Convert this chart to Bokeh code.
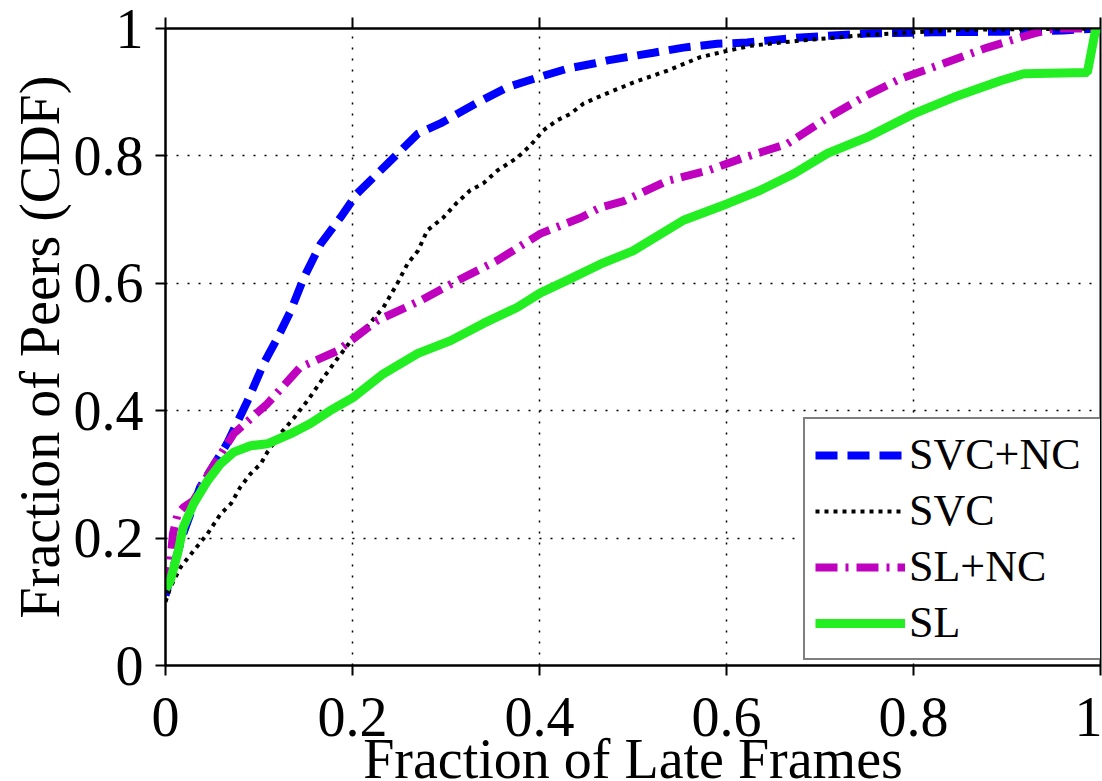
from bokeh.plotting import figure
from bokeh.models import FixedTicker, CustomJSTickFormatter, LinearAxis, Range1d, Title
from bokeh.embed import file_html
from bokeh.resources import INLINE

# ---- data ----
svcnc_x = [0, 0.005, 0.019, 0.037, 0.066, 0.088, 0.105, 0.12, 0.134, 0.148, 0.166, 0.187, 0.205, 0.241, 0.27,
           0.294, 0.334, 0.366, 0.398, 0.43, 0.458, 0.473, 0.522, 0.554, 0.59, 0.622, 0.679, 0.75, 0.82, 0.893, 0.96, 1.0]
svcnc_y = [0.11, 0.138, 0.207, 0.28, 0.349, 0.416, 0.474, 0.515, 0.557, 0.609, 0.662, 0.703, 0.741, 0.793, 0.835,
           0.851, 0.884, 0.908, 0.923, 0.937, 0.945, 0.95, 0.962, 0.97, 0.976, 0.978, 0.986, 0.992, 0.994, 0.995, 0.997, 1.0]

svc_x = [0, 0.005, 0.016, 0.03, 0.045, 0.059, 0.07, 0.08, 0.091, 0.102, 0.109, 0.123, 0.137, 0.152, 0.169,
         0.184, 0.201, 0.212, 0.233, 0.248, 0.259, 0.27, 0.28, 0.297, 0.312, 0.326, 0.34, 0.355, 0.376, 0.39,
         0.404, 0.419, 0.433, 0.447, 0.462, 0.5, 0.537, 0.572, 0.601, 0.626, 0.679, 0.75, 0.85, 1.0]
svc_y = [0.10, 0.122, 0.154, 0.18, 0.207, 0.238, 0.254, 0.28, 0.301, 0.317, 0.335, 0.364, 0.388, 0.416, 0.452,
         0.482, 0.515, 0.526, 0.562, 0.6, 0.631, 0.651, 0.683, 0.703, 0.727, 0.746, 0.757, 0.777, 0.797, 0.816,
         0.84, 0.856, 0.866, 0.882, 0.892, 0.915, 0.934, 0.955, 0.965, 0.973, 0.981, 0.99, 0.998, 1.0]

slnc_x = [0, 0.005, 0.008, 0.013, 0.019, 0.03, 0.048, 0.073, 0.109, 0.144, 0.184, 0.227, 0.273, 0.312, 0.355,
          0.401, 0.444, 0.465, 0.49, 0.537, 0.58, 0.618, 0.665, 0.708, 0.75, 0.786, 0.832, 0.879, 0.928, 0.95, 1.0]
slnc_y = [0.12, 0.16, 0.207, 0.238, 0.248, 0.259, 0.306, 0.364, 0.411, 0.468, 0.494, 0.542, 0.573, 0.604, 0.636,
          0.678, 0.703, 0.719, 0.729, 0.761, 0.777, 0.797, 0.819, 0.86, 0.895, 0.921, 0.945, 0.97, 0.992, 1.0, 1.0]

sl_x = [0, 0.005, 0.013, 0.019, 0.03, 0.045, 0.059, 0.073, 0.091, 0.109, 0.134, 0.155, 0.176, 0.201, 0.233,
        0.27, 0.305, 0.34, 0.376, 0.401, 0.43, 0.465, 0.5, 0.554, 0.601, 0.636, 0.672, 0.708, 0.75, 0.8,
        0.843, 0.893, 0.918, 0.986, 0.995, 1.0]
sl_y = [0.12, 0.133, 0.176, 0.217, 0.254, 0.29, 0.317, 0.335, 0.345, 0.348, 0.364, 0.38, 0.4, 0.421, 0.458,
        0.49, 0.51, 0.537, 0.562, 0.585, 0.605, 0.63, 0.651, 0.699, 0.725, 0.746, 0.772, 0.804, 0.829, 0.866,
        0.892, 0.918, 0.929, 0.931, 1.0, 1.0]

ticks = [0, 0.2, 0.4, 0.6, 0.8, 1.0]
x_title = "Fraction of Late Frames"
y_title = "Fraction of Peers (CDF)"
FONT = "Liberation Serif"

p = figure(width=1102, height=781, output_backend="svg", toolbar_location=None,
           x_range=Range1d(0, 1), y_range=Range1d(0, 1),
           min_border_left=165, min_border_right=2, min_border_top=28, min_border_bottom=116,
           background_fill_color="white", border_fill_color="white")
p.outline_line_color = "black"
p.outline_line_width = 2

fmt = CustomJSTickFormatter(code="return tick.toFixed(1).replace(/\\.0$/, '');")

for ax in (p.xaxis[0], p.yaxis[0]):
    ax.ticker = FixedTicker(ticks=ticks)
    ax.formatter = fmt
    ax.major_label_text_font = FONT
    ax.major_label_text_font_size = "56px"
    ax.major_label_text_color = "black"
    ax.axis_label_text_font = FONT
    ax.axis_label_text_font_size = "56px"
    ax.axis_label_text_font_style = "normal"
    ax.axis_label_text_color = "black"
    ax.axis_line_color = "black"
    ax.axis_line_width = 2
    ax.major_tick_line_color = "black"
    ax.major_tick_line_width = 2
    ax.major_tick_in = 0
    ax.major_tick_out = 10
    ax.minor_tick_line_color = None

p.yaxis[0].axis_label = y_title
p.xaxis[0].major_label_standoff = 22
p.yaxis[0].major_label_standoff = 12
p.yaxis[0].axis_label_standoff = 0

top = LinearAxis(ticker=FixedTicker(ticks=ticks), formatter=fmt,
                 major_label_text_font_size="1px", major_label_text_color=None,
                 major_tick_in=0, major_tick_out=11, major_tick_line_width=2,
                 axis_line_width=2, minor_tick_line_color=None, major_label_standoff=0)
p.add_layout(top, "above")

# x-axis title as a title below the axis, pulled up so the frame keeps its size
p.add_layout(Title(text=x_title, align="center", vertical_align="bottom",
                   text_font=FONT, text_font_size="56px", text_font_style="normal",
                   text_color="black", standoff=-26), "below")

for g in (p.xgrid[0], p.ygrid[0]):
    g.ticker = FixedTicker(ticks=[0.2, 0.4, 0.6, 0.8])
    g.grid_line_color = "black"
    g.grid_line_dash = "2 9"
    g.grid_line_width = 1.5

p.line(svcnc_x, svcnc_y, color="#0000FF", line_width=8, line_dash="22 10", legend_label="SVC+NC")
p.line(svc_x, svc_y, color="black", line_width=4, line_dash="4 5", legend_label="SVC")
p.line(slnc_x, slnc_y, color="#BF00BF", line_width=8, line_dash="22 8 3 8", legend_label="SL+NC")
p.line(sl_x, sl_y, color="#22EE22", line_width=9, legend_label="SL")

lg = p.legend[0]
lg.location = (638, 5)
lg.margin = 0
lg.padding = 10
lg.spacing = 5
lg.glyph_width = 90
lg.glyph_height = 20
lg.label_height = 50
lg.label_width = 183
lg.label_standoff = 4
lg.label_text_font = FONT
lg.label_text_font_size = "44px"
lg.label_text_color = "black"
lg.border_line_color = "black"
lg.border_line_width = 2
lg.background_fill_color = "white"
lg.background_fill_alpha = 1.0

open("out.html", "w").write(file_html(p, INLINE))
